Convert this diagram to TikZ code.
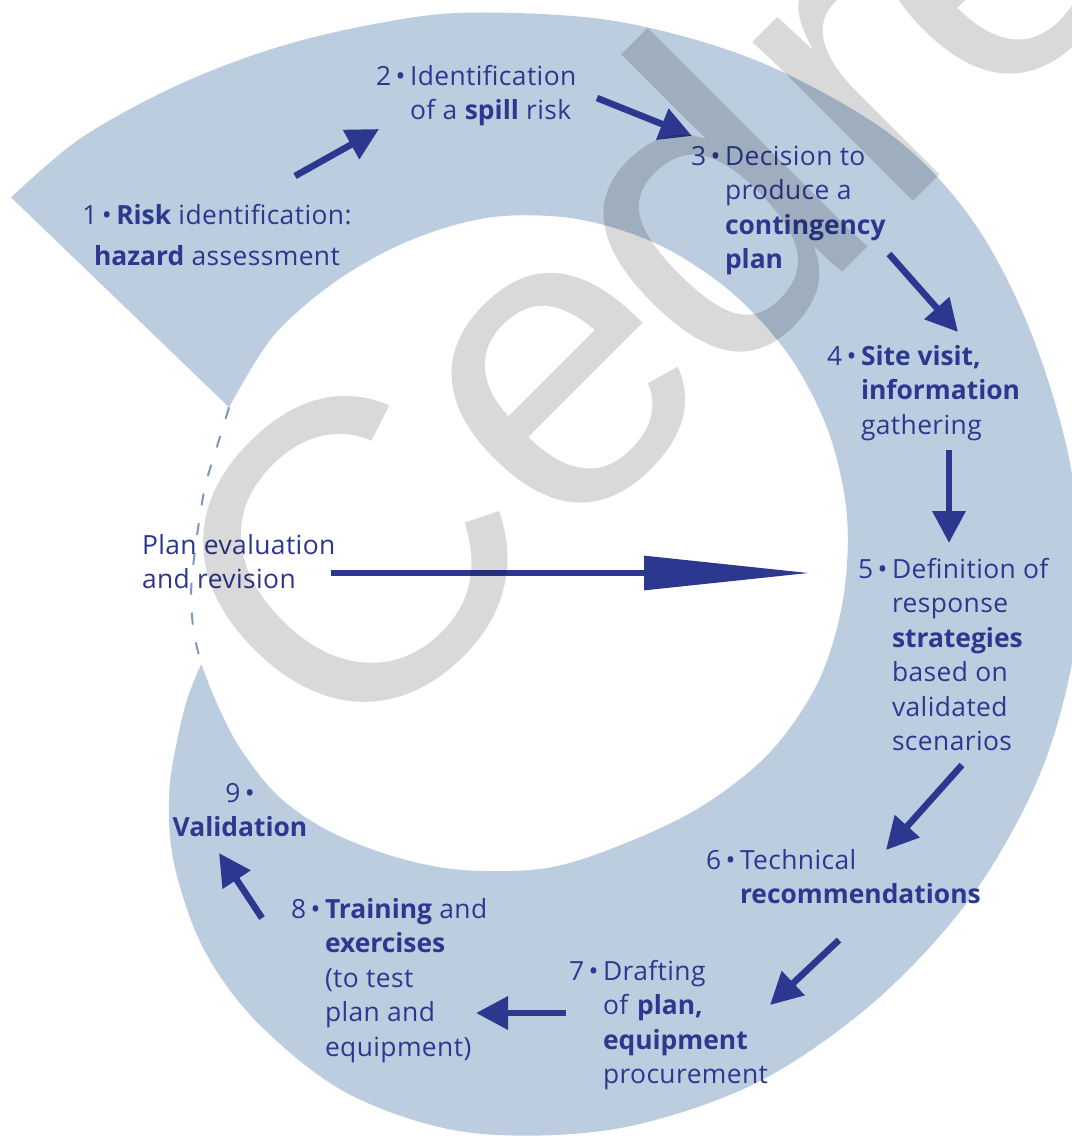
\documentclass[tikz,border=0pt]{standalone}
\usepackage{fontspec}
\setmainfont{Open Sans}[UprightFeatures={LetterSpace=1.5}]
\newfontfamily\wmfont{Liberation Sans}
\usetikzlibrary{arrows.meta}
\definecolor{bandblue}{RGB}{188,205,224}
\definecolor{inkblue}{RGB}{44,56,144}
\definecolor{dashblue}{RGB}{120,153,196}
\newcommand{\nb}[1]{\llap{#1\,•\,}}
\begin{document}
\begin{tikzpicture}[x=0.5pt,y=-0.5pt,
  lbl/.style={inner sep=0pt, outer sep=0pt, text=inkblue, font=\fontsize{13.2pt}{17.25pt}\selectfont},
  arr/.style={draw=inkblue, line width=3.3pt, -{Triangle[length=16pt,width=16pt]}},
  bigarr/.style={draw=inkblue, line width=3pt, -{Triangle[length=83pt,width=16.5pt]}},
  dashline/.style={draw=dashblue, line width=1pt, dash pattern=on 6pt off 9pt},
  wm/.style={inner sep=0pt, outer sep=0pt, rotate=45, anchor=base, text=black, text opacity=0.15, font=\wmfont\fontsize{214pt}{214pt}\selectfont}]
\useasboundingbox (0,0) rectangle (1072,1137);
\fill[white] (0,0) rectangle (1072,1137);
\clip (0,0) rectangle (1072,1137);
% spiral band
\fill[bandblue]
  plot[smooth, tension=0.55] coordinates {(11.1,197.4) (80.7,138.2) (175.1,86.3) (271.9,48.9) (369.7,24.9) (467.8,12.6) (614.6,21.0) (756.6,60.6) (887.9,132.5) (971.7,219.3) (1031.8,334.5) (1072.4,476.6) (1077.9,623.6) (1043.2,766) (973.3,894) (875,1001.2) (754.5,1083.8) (614.7,1129) (468.2,1132.4) (348.3,1093.8) (258,1023.1) (203.3,948.3) (173.8,862.5) (169.3,791.8) (178.9,732.1) (189,693.9) (200.7,665.2)}
  -- plot[smooth, tension=0.55] coordinates {(201.6,665.2) (217.2,704) (239.3,747) (276.9,794.8) (326.5,829.8) (393.4,856.4) (462.4,870) (548.4,867.8) (628.8,841.8) (703.6,805.1) (769.7,752.6) (818.2,682) (843,600) (846.8,514.4) (828.2,430.8) (788.7,354.9) (730.8,291.7) (659,244.8) (577.1,219) (491.5,217.2) (409.9,240.4) (336.4,280.9) (273.3,336) (229.1,407.3)}
  -- cycle;
% dashed closing of the spiral
\draw[dashline] plot[smooth] coordinates {(229.1,407.3) (217.6,444.7) (204.9,487.4) (196,543) (191.2,589.2) (193.5,630.5) (201.6,665.2)};
% texts
\node[lbl, anchor=base] (t1) at (217,224) {\begin{tabular}[t]{@{}c@{}}1\,•\,\textbf{Risk} identification:\\[3.3pt]\textbf{hazard} assessment\end{tabular}};
\node[lbl, anchor=base west] (t2) at (410,85) {\begin{tabular}[t]{@{}l@{}}\nb{2}Identification\\ of a \textbf{spill} risk\end{tabular}};
\node[lbl, anchor=base west] (t3) at (725,165) {\begin{tabular}[t]{@{}l@{}}\nb{3}Decision to\\ produce a\\ \textbf{contingency}\\ \textbf{plan}\end{tabular}};
\node[lbl, anchor=base west] (t4) at (861,365) {\begin{tabular}[t]{@{}l@{}}\nb{4}\textbf{Site visit,}\\ \textbf{information}\\ gathering\end{tabular}};
\node[lbl, anchor=base west] (t5) at (892,578) {\begin{tabular}[t]{@{}l@{}}\nb{5}Definition of\\ response\\ \textbf{strategies}\\ based on\\ validated\\ scenarios\end{tabular}};
\node[lbl, anchor=base west] (t6) at (740,869) {\begin{tabular}[t]{@{}l@{}}\nb{6}Technical\\ \textbf{recommendations}\end{tabular}};
\node[lbl, anchor=base west] (t7) at (603,980) {\begin{tabular}[t]{@{}l@{}}\nb{7}Drafting\\ of \textbf{plan,}\\ \textbf{equipment}\\ procurement\end{tabular}};
\node[lbl, anchor=base west] (t8) at (325,918) {\begin{tabular}[t]{@{}l@{}}\nb{8}\textbf{Training} and\\ \textbf{exercises}\\ (to test\\ plan and\\ equipment)\end{tabular}};
\node[lbl, anchor=base] (t9) at (240,802) {\begin{tabular}[t]{@{}c@{}}9\,•\\ \textbf{Validation}\end{tabular}};
\node[lbl, anchor=base west] (tp) at (142,554) {\begin{tabular}[t]{@{}l@{}}Plan evaluation\\ and revision\end{tabular}};
% arrow end points
\coordinate (a1s) at (295,176); \coordinate (a1e) at (379,129);
\coordinate (a2s) at (597,98);  \coordinate (a2e) at (692,136);
\coordinate (a3s) at (889,254); \coordinate (a3e) at (958,332);
\coordinate (a4s) at (949,450); \coordinate (a4e) at (949,543);
\coordinate (a5s) at (962,765); \coordinate (a5e) at (886,850);
\coordinate (a6s) at (839,940); \coordinate (a6e) at (770,1005);
\coordinate (a7s) at (566,1013); \coordinate (a7e) at (476,1013);
\coordinate (a8s) at (262,918); \coordinate (a8e) at (219,853);
\coordinate (a9s) at (331,573); \coordinate (a9e) at (810,573);
\draw[arr] (a1s) -- (a1e);
\draw[arr] (a2s) -- (a2e);
\draw[arr] (a3s) -- (a3e);
\draw[arr] (a4s) -- (a4e);
\draw[arr] (a5s) -- (a5e);
\draw[arr] (a6s) -- (a6e);
\draw[arr] (a7s) -- (a7e);
\draw[arr] (a8s) -- (a8e);
\draw[bigarr] (a9s) -- (a9e);
% watermark
\node[wm] (w1) at (454,661) {C};
\node[wm] (w2) at (646.5,468.5) {e};
\node[wm] (w3) at (803.6,311.4) {d};
\node[wm] (w4) at (943.3,171.8) {r};
\node[wm] (w5) at (1075.5,39.5) {e};
\end{tikzpicture}
\end{document}
